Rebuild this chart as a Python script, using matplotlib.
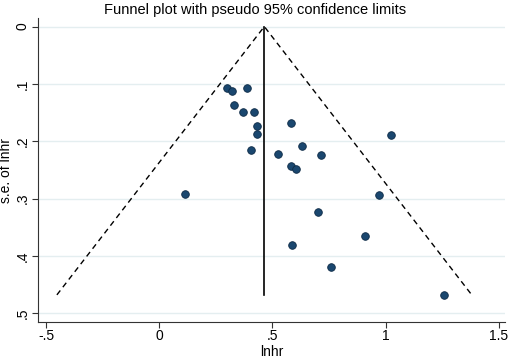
import numpy as np
import matplotlib
matplotlib.use("Agg")
import matplotlib.pyplot as plt

plt.rcParams['font.family'] = ['Liberation Sans', 'DejaVu Sans']

# study estimates (log hazard ratio) and standard errors
lnhr = [0.301, 0.321, 0.386, 0.330, 0.371, 0.419, 0.432, 0.432, 0.405,
        0.582, 0.631, 0.523, 0.713, 0.582, 0.604, 0.112, 0.703, 1.023,
        0.970, 0.909, 0.588, 0.760, 1.257]
se = [0.108, 0.113, 0.108, 0.136, 0.149, 0.149, 0.174, 0.187, 0.216,
      0.169, 0.208, 0.223, 0.224, 0.243, 0.249, 0.292, 0.323, 0.189,
      0.293, 0.366, 0.381, 0.419, 0.468]
pooled = 0.464

xticks = [-0.5, 0, 0.5, 1, 1.5]
xticklabels = ['-.5', '0', '.5', '1', '1.5']
yticks = [0, 0.1, 0.2, 0.3, 0.4, 0.5]
yticklabels = ['0', '.1', '.2', '.3', '.4', '.5']

fig = plt.figure(figsize=(5.1, 3.59), dpi=100)
ax = fig.add_axes([0.074, 0.102, 0.916, 0.848])

# grid lines only horizontal
for t in yticks:
    ax.axhline(t, color='#e4eef0', lw=1.0, zorder=0)

# pseudo 95% limits
semax = max(se)
ax.plot([pooled - 1.96 * semax, pooled, pooled + 1.96 * semax],
        [semax, 0, semax], color='black', lw=1.0, ls=(0, (4, 3)), zorder=2)
ax.plot([pooled, pooled], [0, semax], color='black', lw=1.2, zorder=2)

ax.scatter(lnhr, se, s=30, color='#1a476f', edgecolors='#0d2a45',
           linewidths=0.6, zorder=3)

ax.set_xlim(-0.538, 1.528)
ax.set_ylim(0.516, -0.015)

ax.set_xticks(xticks)
ax.set_xticklabels(xticklabels, fontsize=10)
ax.set_yticks(yticks)
ax.set_yticklabels(yticklabels, fontsize=10, rotation=90, va='center')
ax.tick_params(direction='out', length=4, width=0.8, color='#333333', pad=2)
ax.tick_params(axis='x', pad=1)

ax.spines['top'].set_visible(False)
ax.spines['right'].set_visible(False)
ax.spines['left'].set_color('#333333')
ax.spines['bottom'].set_color('#333333')

ax.set_xlabel('lnhr', fontsize=10, labelpad=1.5)
ax.set_ylabel('s.e. of lnhr', fontsize=10, labelpad=2)
fig.text(0.5, 0.972, 'Funnel plot with pseudo 95% confidence limits',
         ha='center', va='center', fontsize=10.5)

fig.savefig('out.png', dpi=100)
